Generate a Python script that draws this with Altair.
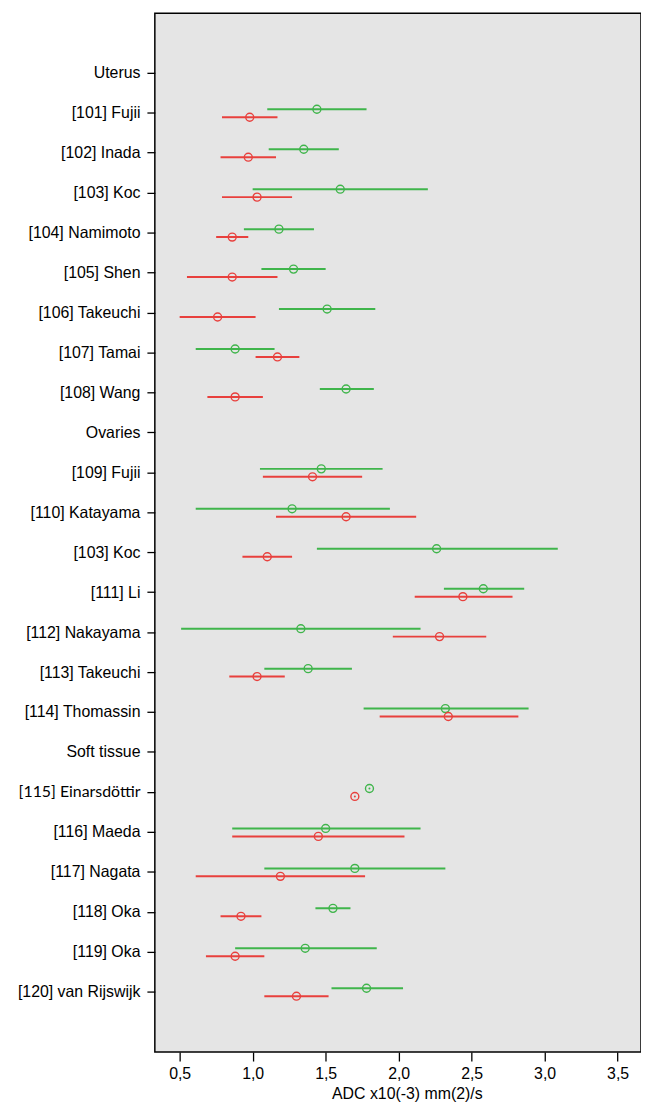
import altair as alt
import pandas as pd

labels = [
    "Uterus", "[101] Fujii", "[102] Inada", "[103] Koc", "[104] Namimoto",
    "[105] Shen", "[106] Takeuchi", "[107] Tamai", "[108] Wang",
    "Ovaries", "[109] Fujii", "[110] Katayama", "[103] Koc ", "[111] Li",
    "[112] Nakayama", "[113] Takeuchi", "[114] Thomassin",
    "Soft tissue", "[115] Einarsdöttir\u00a0\u00a0\u00a0", "[116] Maeda", "[117] Nagata",
    "[118] Oka", "[119] Oka", "[120] van Rijswijk",
]

green_mean = [None, 1.44, 1.35, 1.60, 1.18, 1.28, 1.51, 0.88, 1.64,
              None, 1.47, 1.27, 2.26, 2.58, 1.33, 1.38, 2.32,
              None, 1.80, 1.50, 1.70, 1.55, 1.36, 1.78]
green_lo = [None, 1.10, 1.11, 1.00, 0.94, 1.06, 1.18, 0.61, 1.46,
            None, 1.05, 0.61, 1.44, 2.31, 0.51, 1.08, 1.76,
            None, None, 0.86, 1.08, 1.43, 0.88, 1.54]
green_hi = [None, 1.78, 1.59, 2.20, 1.42, 1.50, 1.84, 1.15, 1.83,
            None, 1.89, 1.94, 3.09, 2.86, 2.15, 1.68, 2.89,
            None, None, 2.15, 2.32, 1.67, 1.85, 2.03]

red_mean = [None, 0.98, 0.97, 1.03, 0.86, 0.86, 0.76, 1.17, 0.88,
            None, 1.41, 1.64, 1.10, 2.44, 2.28, 1.03, 2.34,
            None, 1.70, 1.45, 1.19, 0.92, 0.88, 1.30]
red_lo = [None, 0.79, 0.78, 0.79, 0.75, 0.55, 0.50, 1.02, 0.69,
          None, 1.07, 1.16, 0.93, 2.11, 1.96, 0.84, 1.87,
          None, None, 0.86, 0.61, 0.78, 0.68, 1.08]
red_hi = [None, 1.17, 1.16, 1.27, 0.97, 1.17, 1.02, 1.32, 1.07,
          None, 1.75, 2.12, 1.27, 2.78, 2.60, 1.22, 2.82,
          None, None, 2.04, 1.77, 1.06, 1.08, 1.52]

x_ticks = [0.5, 1.0, 1.5, 2.0, 2.5, 3.0, 3.5]

GREEN = "#3fb54b"
RED = "#e8403d"

pts, rules, dots = [], [], []
for i, lab in enumerate(labels):
    for grp, m, lo, hi in (("green", green_mean[i], green_lo[i], green_hi[i]),
                           ("red", red_mean[i], red_lo[i], red_hi[i])):
        if m is None:
            continue
        pts.append({"label": lab, "grp": grp, "mean": m})
        if lo is not None:
            rules.append({"label": lab, "grp": grp, "lo": lo, "hi": hi})
        else:
            dots.append({"label": lab, "grp": grp, "mean": m})

pts_df = pd.DataFrame(pts)
rules_df = pd.DataFrame(rules)
dots_df = pd.DataFrame(dots)

x_scale = alt.Scale(domain=[0.33, 3.66], nice=False, zero=False)
y_scale = alt.Scale(domain=labels, paddingInner=0, paddingOuter=1)
off_scale = alt.Scale(domain=["green", "red"], range=[12.2, 28.2], paddingInner=0, paddingOuter=0)
color_scale = alt.Scale(domain=["green", "red"], range=[GREEN, RED])

einars = "indexof(datum.value, 'Einars') >= 0"
y_axis = alt.Axis(
    title=None, domain=False, ticks=True, tickSize=8, tickColor="black",
    tickWidth=1.3, labelPadding=7,
    labelFontSize=16,
    labelFont={"condition": {"test": einars, "value": "Lato"}, "value": "Liberation Sans"},
    labelColor="black", grid=False,
)
x_axis = alt.Axis(
    title="ADC x10(-3) mm(2)/s", values=x_ticks, domain=False, tickSize=9,
    tickColor="black", tickWidth=1.3, labelPadding=5, labelFontSize=16,
    labelFont="Liberation Sans", labelColor="black", grid=False,
    labelExpr="replace(format(datum.value, '.1f'), '.', ',')",
    titleFont="Liberation Sans", titleFontSize=16, titleFontWeight="normal",
    titleColor="black", titlePadding=4, titleX=254,
)

base_y = alt.Y("label:N", scale=y_scale, axis=y_axis, sort=labels)
off = alt.YOffset("grp:N", scale=off_scale)

rule_layer = alt.Chart(rules_df).mark_rule(strokeWidth=2).encode(
    x=alt.X("lo:Q", scale=x_scale, axis=x_axis),
    x2="hi:Q",
    y=base_y,
    yOffset=off,
    color=alt.Color("grp:N", scale=color_scale, legend=None),
)

pt_layer = alt.Chart(pts_df).mark_point(shape="circle", size=64, strokeWidth=1.4, filled=False, opacity=1).encode(
    x=alt.X("mean:Q", scale=x_scale, axis=x_axis),
    y=base_y,
    yOffset=off,
    color=alt.Color("grp:N", scale=color_scale, legend=None),
)

dot_layer = alt.Chart(dots_df).mark_point(shape="circle", size=4, filled=True, opacity=1).encode(
    x=alt.X("mean:Q", scale=x_scale, axis=x_axis),
    y=base_y,
    yOffset=off,
    color=alt.Color("grp:N", scale=color_scale, legend=None),
)

chart = alt.layer(rule_layer, pt_layer, dot_layer).properties(
    width=490, height=1047,
    autosize=alt.AutoSizeParams(type="none"),
    padding={"left": 148, "top": 1, "right": 0, "bottom": 53},
    background="white",
).configure_view(
    fill="#e5e5e5", stroke="black", strokeWidth=1.5,
)

chart.save("out.html", embed_options={"renderer": "svg", "actions": False})
